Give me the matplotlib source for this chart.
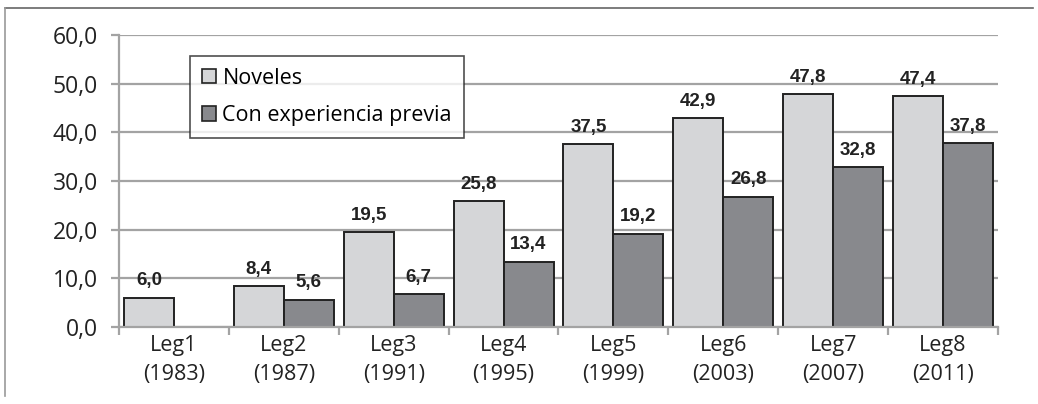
import matplotlib.pyplot as plt
import numpy as np
from matplotlib.lines import Line2D
from matplotlib.patches import Patch

categorias = ['Leg1\n(1983)', 'Leg2\n(1987)', 'Leg3\n(1991)', 'Leg4\n(1995)',
              'Leg5\n(1999)', 'Leg6\n(2003)', 'Leg7\n(2007)', 'Leg8\n(2011)']
noveles = [6.0, 8.4, 19.5, 25.8, 37.5, 42.9, 47.8, 47.4]
experiencia = [None, 5.6, 6.7, 13.4, 19.2, 26.8, 32.8, 37.8]
yticks = [0, 10, 20, 30, 40, 50, 60]

c_nov = '#d5d6d8'
c_exp = '#88898d'

fig = plt.figure(figsize=(10.38, 4.04), dpi=100)
ax = fig.add_axes([0.1146, 0.1906, 0.8469, 0.7228])

x = np.arange(len(categorias))
w = 0.455
exp_vals = [v if v is not None else np.nan for v in experiencia]

ax.set_axisbelow(True)
ax.yaxis.grid(True, color='#a3a3a3', linewidth=1.6)
ax.bar(x - w/2, noveles, w, color=c_nov, edgecolor='#222222', linewidth=1.4)
ax.bar(x + w/2, exp_vals, w, color=c_exp, edgecolor='#222222', linewidth=1.4)

lab_font = dict(fontsize=13.5, fontweight='bold', family='Liberation Sans', color='#222222')
for i, v in enumerate(noveles):
    ax.annotate(f'{v:.1f}'.replace('.', ','), (x[i] - w/2, v), xytext=(0, 6),
                textcoords='offset points', ha='center', va='bottom', **lab_font)
for i, v in enumerate(experiencia):
    if v is None:
        continue
    ax.annotate(f'{v:.1f}'.replace('.', ','), (x[i] + w/2, v), xytext=(0, 6),
                textcoords='offset points', ha='center', va='bottom', **lab_font)

ax.set_xlim(-0.5, len(x) - 0.5)
ax.set_ylim(0, 60)
ax.set_yticks(yticks)
ax.set_yticklabels([f'{t:.1f}'.replace('.', ',') for t in yticks],
                   fontsize=16.5, family='Open Sans', color='#222222')
ax.set_xticks(x)
ax.set_xticklabels(categorias, fontsize=15.5, family='Open Sans', color='#222222',
                   linespacing=1.5)
ax.tick_params(axis='x', length=0, pad=6)
ax.tick_params(axis='y', length=6, color='#a3a3a3', width=1.6, pad=9)
# marcas en los limites de cada grupo
ax.set_xticks(np.arange(-0.5, len(x) + 0.5, 1), minor=True)
ax.tick_params(axis='x', which='minor', length=6, color='#a3a3a3', width=1.6)

for s in ['top', 'right']:
    ax.spines[s].set_visible(False)
ax.spines['left'].set_color('#a3a3a3')
ax.spines['left'].set_linewidth(1.6)
ax.spines['bottom'].set_color('#a3a3a3')
ax.spines['bottom'].set_linewidth(1.6)

handles = [Patch(facecolor=c_nov, edgecolor='#222222', linewidth=1.2),
           Patch(facecolor=c_exp, edgecolor='#222222', linewidth=1.2)]
leg = ax.legend(handles, ['Noveles', 'Con experiencia previa'],
                loc='upper left', bbox_to_anchor=(0.081, 0.928),
                prop={'family': 'Open Sans', 'size': 15.5}, frameon=True, fancybox=False,
                edgecolor='#222222', handlelength=0.65, handleheight=0.65,
                handletextpad=0.3, labelspacing=0.75, borderpad=0.55, borderaxespad=0)
leg.get_frame().set_linewidth(1.2)

# marco exterior
fig.add_artist(Line2D([0.005, 0.995], [0.98, 0.98], color='#666666', linewidth=1.2))
fig.add_artist(Line2D([0.005, 0.005], [0.02, 0.98], color='#999999', linewidth=1.2))

fig.savefig('out.png', dpi=100)
